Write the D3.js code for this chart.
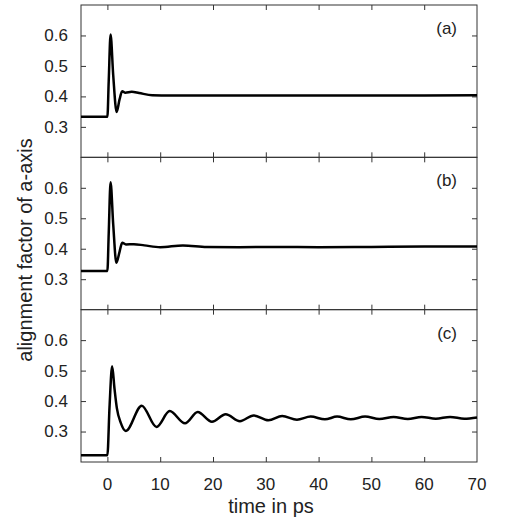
<!DOCTYPE html>
<html>
<head>
<meta charset="utf-8">
<script src="https://cdn.jsdelivr.net/npm/d3@7"></script>
<style>
  body { margin: 0; background: #fff; }
  text { font-family: 'Liberation Sans', Arial, sans-serif; fill: #222; }
</style>
</head>
<body>
<script>
// alignment factor, three stacked panels

// panel (a)
let timeA = [-5, 0, 0.25, 0.6, 1.1, 1.75, 2.3, 2.8, 3.4, 4.6, 6, 8.5, 12, 20, 30, 40, 50, 60, 70]
let valueA = [0.333, 0.333, 0.45, 0.603, 0.47, 0.349, 0.39, 0.417, 0.412, 0.415, 0.411, 0.404, 0.403, 0.403, 0.403, 0.403, 0.403, 0.403, 0.404]
// panel (b)
let timeB = [-5, 0, 0.25, 0.6, 1.1, 1.7, 2.3, 2.8, 3.5, 5, 7, 10, 14.3, 18.8, 25, 32, 40, 50, 60, 70]
let valueB = [0.327, 0.327, 0.45, 0.618, 0.48, 0.354, 0.39, 0.42, 0.414, 0.415, 0.411, 0.405, 0.411, 0.406, 0.405, 0.406, 0.405, 0.406, 0.407, 0.407]
// panel (c)
let timeC = [-5, 0, 0.4, 0.9, 1.35, 1.8, 2.5, 3.5, 6.5, 9.3, 11.8, 14.7, 17.1, 19.8, 22.4, 25.1, 27.7, 30.5, 33.1, 35.9, 38.5, 41.2, 43.5, 46.1, 48.8, 51.5, 54.2, 56.9, 59.5, 62.2, 64.9, 67.6, 70]
let valueC = [0.2225, 0.2225, 0.38, 0.514, 0.44, 0.376, 0.33, 0.302, 0.385, 0.315, 0.367, 0.327, 0.364, 0.332, 0.357, 0.334, 0.353, 0.337, 0.351, 0.339, 0.349, 0.340, 0.349, 0.340, 0.349, 0.341, 0.348, 0.341, 0.348, 0.342, 0.348, 0.342, 0.346]

let panelNames = ['(a)', '(b)', '(c)']
let xTicks = [0, 10, 20, 30, 40, 50, 60, 70]
let yTicks = [0.3, 0.4, 0.5, 0.6]
let xLabel = 'time in ps'
let yLabel = 'alignment factor of a-axis'

let W = 507
let H = 525
let plotLeft = 81
let plotRight = 477
let plotTop = 5
let plotBottom = 462
let panelH = (plotBottom - plotTop) / 3
let tickLen = 5

let series = [
  {name: panelNames[0], t: timeA, v: valueA},
  {name: panelNames[1], t: timeB, v: valueB},
  {name: panelNames[2], t: timeC, v: valueC}
]

let x = d3.scaleLinear().domain([-5, 70]).range([plotLeft, plotRight])

let svg = d3.select('body')
  .append('svg')
  .attr('width', W)
  .attr('height', H)

series.forEach(function (s, i) {
  let y0 = plotTop + i * panelH
  let y = d3.scaleLinear().domain([0.2, 0.7]).range([y0 + panelH, y0])
  let g = svg.append('g')

  // ticks on all four sides, pointing inward
  g.append('g')
    .attr('transform', 'translate(0,' + (y0 + panelH) + ')')
    .call(d3.axisBottom(x).tickValues(xTicks.slice(0, -1)).tickSizeInner(-tickLen).tickSizeOuter(0).tickFormat(''))
  g.append('g')
    .attr('transform', 'translate(0,' + y0 + ')')
    .call(d3.axisTop(x).tickValues(xTicks.slice(0, -1)).tickSizeInner(-tickLen).tickSizeOuter(0).tickFormat(''))
  g.append('g')
    .attr('transform', 'translate(' + plotLeft + ',0)')
    .call(d3.axisLeft(y).tickValues(yTicks).tickSizeInner(-tickLen).tickSizeOuter(0).tickFormat(''))
  g.append('g')
    .attr('transform', 'translate(' + plotRight + ',0)')
    .call(d3.axisRight(y).tickValues(yTicks).tickSizeInner(-tickLen).tickSizeOuter(0).tickFormat(''))
  g.selectAll('.domain').remove()
  g.selectAll('.tick line').attr('stroke', '#333').attr('stroke-width', 1)

  // frame
  g.append('rect')
    .attr('x', plotLeft)
    .attr('y', y0)
    .attr('width', plotRight - plotLeft)
    .attr('height', panelH)
    .attr('fill', 'none')
    .attr('stroke', '#333')
    .attr('stroke-width', 1)

  // y tick labels
  g.selectAll('.ylab')
    .data(yTicks)
    .enter()
    .append('text')
    .attr('x', 68)
    .attr('y', function (d) { return y(d) })
    .attr('dy', '0.35em')
    .attr('text-anchor', 'end')
    .attr('font-size', '17px')
    .text(function (d) { return d3.format('.1f')(d) })

  // curve
  let line = d3.line()
    .x(function (d) { return x(d[0]) })
    .y(function (d) { return y(d[1]) })
    .curve(d3.curveMonotoneX)
  g.append('path')
    .datum(d3.zip(s.t, s.v))
    .attr('d', line)
    .attr('fill', 'none')
    .attr('stroke', '#000')
    .attr('stroke-width', 2.5)
    .attr('stroke-linejoin', 'round')

  // panel name
  g.append('text')
    .attr('x', 457)
    .attr('y', y0 + 29)
    .attr('text-anchor', 'end')
    .attr('font-size', '17px')
    .text(s.name)
})

// x tick labels under the last panel
svg.selectAll('.xlab')
  .data(xTicks)
  .enter()
  .append('text')
  .attr('x', function (d) { return x(d) })
  .attr('y', 489.5)
  .attr('text-anchor', 'middle')
  .attr('font-size', '17px')
  .text(function (d) { return d })

svg.append('text')
  .attr('x', 271)
  .attr('y', 513)
  .attr('text-anchor', 'middle')
  .attr('font-size', '20px')
  .text(xLabel)

svg.append('text')
  .attr('transform', 'translate(32,250) rotate(-90)')
  .attr('text-anchor', 'middle')
  .attr('font-size', '20px')
  .text(yLabel)
</script>
</body>
</html>
